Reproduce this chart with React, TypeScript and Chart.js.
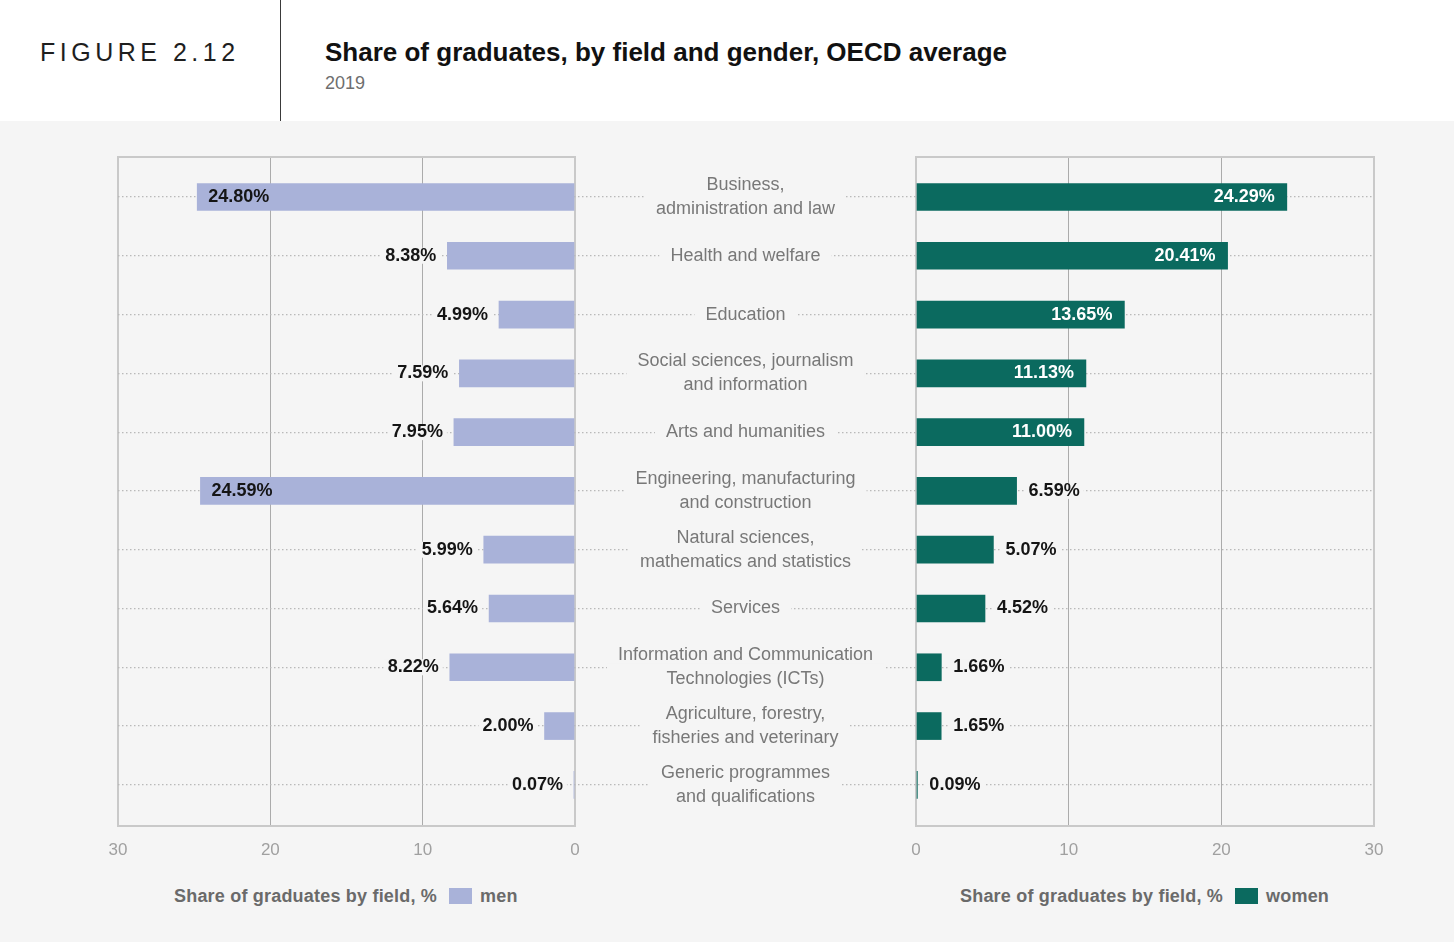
import React, { useEffect, useRef } from "react";
import { Chart, registerables } from "chart.js";

Chart.register(...registerables);

const FONT = '"Liberation Sans", Arial, Helvetica, sans-serif';

// Field names (each entry is the text lines of the centre label)
const fields: string[][] = [
  ["Business,", "administration and law"],
  ["Health and welfare"],
  ["Education"],
  ["Social sciences, journalism", "and information"],
  ["Arts and humanities"],
  ["Engineering, manufacturing", "and construction"],
  ["Natural sciences,", "mathematics and statistics"],
  ["Services"],
  ["Information and Communication", "Technologies (ICTs)"],
  ["Agriculture, forestry,", "fisheries and veterinary"],
  ["Generic programmes", "and qualifications"],
];

// Share of graduates by field, %
const menShares = [24.8, 8.38, 4.99, 7.59, 7.95, 24.59, 5.99, 5.64, 8.22, 2.0, 0.07];
const womenShares = [24.29, 20.41, 13.65, 11.13, 11.0, 6.59, 5.07, 4.52, 1.66, 1.65, 0.09];

// Axis range shared by both panels
const axisMin = 0;
const axisMax = 30;
const axisStep = 10;

const MEN_COLOR = "#a9b2d9";
const WOMEN_COLOR = "#0b6a5f";
const BG = "#f5f5f5";
const FRAME = "#c9c9c9";
const GRID = "#ababab";
const DOTS = "#b9b9b9";
const FIELD_TEXT = "#787878";
const TICK_TEXT = "#a0a0a0";

const INSIDE_THRESHOLD = 10;

const decorPlugin = {
  id: "figureDecor",
  beforeDatasetsDraw(chart: any) {
    const { ctx, chartArea, scales } = chart;
    const yScale = scales.y;
    const mid = scales.xMid;
    ctx.save();
    // top edge of both panels
    ctx.strokeStyle = FRAME;
    ctx.lineWidth = 2;
    for (const id of ["xMen", "xWomen"]) {
      const s = scales[id];
      ctx.beginPath();
      ctx.moveTo(s.left - 1, chartArea.top);
      ctx.lineTo(s.right + 1, chartArea.top);
      ctx.stroke();
    }
    // field names in the centre column
    ctx.font = `18px ${FONT}`;
    ctx.textAlign = "center";
    ctx.textBaseline = "middle";
    const cx = (mid.left + mid.right) / 2;
    fields.forEach((lines, i) => {
      const cy = yScale.getPixelForValue(i);
      const w = Math.max(...lines.map((l) => ctx.measureText(l).width));
      ctx.fillStyle = BG;
      ctx.fillRect(cx - w / 2 - 11, cy - 4, w + 22, 8);
      ctx.fillStyle = FIELD_TEXT;
      lines.forEach((line, k) => {
        ctx.fillText(line, cx, cy + (k - (lines.length - 1) / 2) * 24);
      });
    });
    ctx.restore();
  },
  afterDatasetsDraw(chart: any) {
    const { ctx } = chart;
    ctx.save();
    ctx.font = `bold 18px ${FONT}`;
    ctx.textBaseline = "middle";
    const series = [
      { values: menShares, dir: -1 },
      { values: womenShares, dir: 1 },
    ];
    series.forEach((s, di) => {
      const meta = chart.getDatasetMeta(di);
      meta.data.forEach((bar: any, j: number) => {
        const v = s.values[j];
        const text = v.toFixed(2) + "%";
        const w = ctx.measureText(text).width;
        const inside = v >= INSIDE_THRESHOLD;
        let x: number;
        if (s.dir < 0) {
          // men: bars grow to the left
          if (inside) {
            ctx.textAlign = "left";
            x = bar.x + 11;
            ctx.fillStyle = "#151515";
            ctx.fillText(text, x, bar.y);
          } else {
            ctx.textAlign = "right";
            x = bar.x - 11;
            ctx.fillStyle = BG;
            ctx.fillRect(x - w - 4, bar.y - 8, w + 8, 16);
            ctx.fillStyle = "#151515";
            ctx.fillText(text, x, bar.y);
          }
        } else {
          if (inside) {
            ctx.textAlign = "right";
            x = bar.x - 12;
            ctx.fillStyle = "#ffffff";
            ctx.fillText(text, x, bar.y);
          } else {
            ctx.textAlign = "left";
            x = bar.x + 12;
            ctx.fillStyle = BG;
            ctx.fillRect(x - 4, bar.y - 8, w + 8, 16);
            ctx.fillStyle = "#151515";
            ctx.fillText(text, x, bar.y);
          }
        }
      });
    });
    ctx.restore();
  },
};

const gridColor = (c: any) =>
  c.tick && (c.tick.value === axisMin || c.tick.value === axisMax) ? FRAME : GRID;
const gridWidth = (c: any) =>
  c.tick && (c.tick.value === axisMin || c.tick.value === axisMax) ? 2 : 1;

const valueAxis = (reverse: boolean, weight: number) => ({
  type: "linear" as const,
  position: "bottom" as const,
  stack: "panels",
  stackWeight: weight,
  reverse,
  min: axisMin,
  max: axisMax,
  afterFit: (s: any) => {
    s.height = 37;
  },
  ticks: {
    stepSize: axisStep,
    color: TICK_TEXT,
    padding: 14,
    maxRotation: 0,
    font: { family: FONT, size: 17 },
  },
  grid: { drawTicks: false, color: gridColor, lineWidth: gridWidth },
  border: { display: true, color: FRAME, width: 2 },
});

function GraduatesChart() {
  const ref = useRef<HTMLCanvasElement | null>(null);
  useEffect(() => {
    if (!ref.current) return;
    const chart = new Chart(ref.current, {
      type: "bar",
      data: {
        datasets: [
          {
            label: "men",
            data: menShares.map((v, i) => ({ x: v, y: i })),
            xAxisID: "xMen",
            yAxisID: "y",
            backgroundColor: MEN_COLOR,
            barThickness: 27,
            grouped: false,
            borderWidth: 0,
          } as any,
          {
            label: "women",
            data: womenShares.map((v, i) => ({ x: v, y: i })),
            xAxisID: "xWomen",
            yAxisID: "y",
            backgroundColor: WOMEN_COLOR,
            barThickness: 27,
            grouped: false,
            borderWidth: 0,
          } as any,
        ],
      },
      options: {
        indexAxis: "y",
        responsive: false,
        animation: false,
        devicePixelRatio: 1,
        layout: { padding: { left: 118, right: 80, top: 36, bottom: 18 } },
        plugins: { legend: { display: false }, tooltip: { enabled: false } },
        scales: {
          xMen: valueAxis(true, 457),
          xMid: {
            type: "linear",
            position: "bottom",
            stack: "panels",
            stackWeight: 341,
            min: 0,
            max: 1,
            ticks: { display: false },
            grid: { display: false, drawTicks: false },
            border: { display: false },
          },
          xWomen: valueAxis(false, 458),
          y: {
            type: "linear",
            position: "left",
            reverse: true,
            offset: false,
            min: -0.68,
            max: fields.length - 1 + 0.7,
            afterBuildTicks: (s: any) => {
              s.ticks = fields.map((_, i) => ({ value: i }));
            },
            ticks: { display: false },
            grid: { offset: false, drawTicks: false, color: DOTS, lineWidth: 1.2 },
            border: { display: false, dash: [1.5, 2.5] },
          },
        } as any,
      },
      plugins: [decorPlugin],
    });
    return () => chart.destroy();
  }, []);
  return (
    <canvas
      ref={ref}
      width={1454}
      height={760}
      style={{ position: "absolute", left: 0, top: 121, width: 1454, height: 760 }}
    />
  );
}

function LegendKey({ left, color, name }: { left: number; color: string; name: string }) {
  return (
    <div
      style={{
        position: "absolute",
        left,
        top: 884,
        height: 24,
        display: "flex",
        alignItems: "center",
        fontFamily: FONT,
        fontWeight: "bold",
        fontSize: 18,
        letterSpacing: 0.2,
        color: "#6a6a6a",
        whiteSpace: "nowrap",
      }}
    >
      <span>Share of graduates by field, %</span>
      <span
        style={{ display: "inline-block", width: 23, height: 16, background: color, margin: "0 8px 0 12px" }}
      />
      <span>{name}</span>
    </div>
  );
}

export default function App() {
  return (
    <div
      style={{
        position: "absolute",
        left: 0,
        top: 0,
        width: 1454,
        height: 942,
        background: BG,
        overflow: "hidden",
        fontFamily: FONT,
      }}
    >
      <div style={{ position: "absolute", left: 0, top: 0, width: 1454, height: 121, background: "#ffffff" }} />
      <div style={{ position: "absolute", left: 280, top: 0, width: 1, height: 121, background: "#3a3a3a" }} />
      <div
        style={{
          position: "absolute",
          left: 40,
          top: 36,
          fontSize: 25,
          letterSpacing: 4.5,
          color: "#1e1e1e",
          lineHeight: "32px",
        }}
      >
        FIGURE 2.12
      </div>
      <div
        style={{
          position: "absolute",
          left: 325,
          top: 36,
          fontSize: 26,
          fontWeight: "bold",
          color: "#111111",
          lineHeight: "32px",
        }}
      >
        Share of graduates, by field and gender, OECD average
      </div>
      <div style={{ position: "absolute", left: 325, top: 71, fontSize: 18, color: "#6e6e6e", lineHeight: "24px" }}>
        2019
      </div>
      <GraduatesChart />
      <LegendKey left={174} color={MEN_COLOR} name="men" />
      <LegendKey left={960} color={WOMEN_COLOR} name="women" />
    </div>
  );
}
